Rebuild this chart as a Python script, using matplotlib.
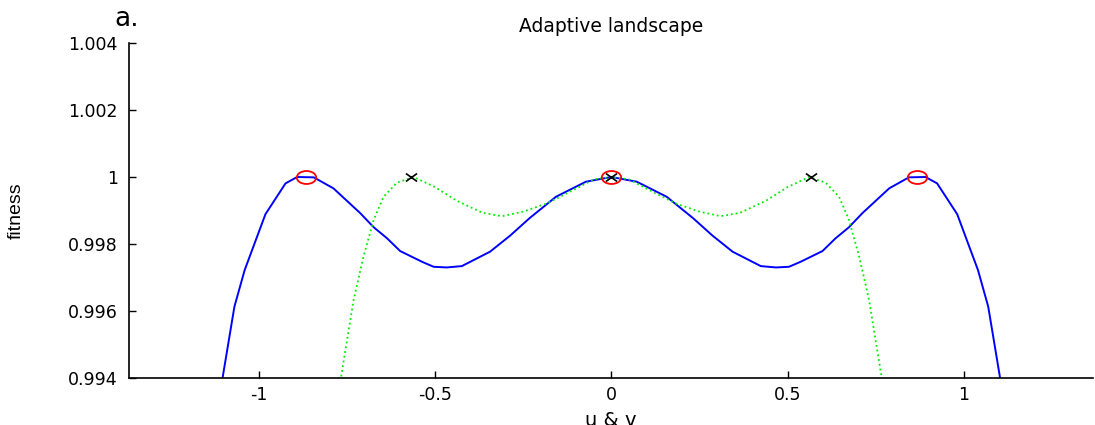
import numpy as np
import matplotlib
matplotlib.use("Agg")
import matplotlib.pyplot as plt
from matplotlib.path import Path
from matplotlib.transforms import Affine2D

plt.rcParams['font.family'] = ['DejaVu Sans']

# blue curve (solid)
blue_x = [-1.12, -1.069, -1.04, -0.981, -0.924, -0.891, -0.844, -0.788, -0.712, -0.674,
          -0.636, -0.599, -0.537, -0.504, -0.467, -0.424, -0.344, -0.287, -0.232, -0.157,
          -0.072, 0.0, 0.072, 0.157, 0.232, 0.287, 0.344, 0.424, 0.467, 0.504,
          0.537, 0.599, 0.636, 0.674, 0.712, 0.788, 0.844, 0.891, 0.924, 0.981,
          1.04, 1.069, 1.12]
blue_y = [0.9929, 0.99613, 0.99722, 0.99889, 0.99981, 1.0, 0.99999, 0.99966, 0.99892, 0.9985,
          0.99817, 0.99779, 0.99747, 0.99732, 0.9973, 0.99734, 0.99777, 0.99825, 0.99877, 0.99941,
          0.99986, 1.0, 0.99986, 0.99941, 0.99877, 0.99825, 0.99777, 0.99734, 0.9973, 0.99732,
          0.99747, 0.99779, 0.99817, 0.9985, 0.99892, 0.99966, 0.99999, 1.0, 0.99981, 0.99889,
          0.99722, 0.99613, 0.9929]

# green curve (dotted)
green_x = [-0.78, -0.767, -0.731, -0.703, -0.674, -0.646, -0.608, -0.561, -0.5, -0.44,
           -0.365, -0.31, -0.249, -0.183, -0.108, -0.05, 0.0, 0.05, 0.108, 0.183,
           0.249, 0.31, 0.365, 0.44, 0.5, 0.561, 0.608, 0.646, 0.674, 0.703,
           0.731, 0.767, 0.78]
green_y = [0.9932, 0.994, 0.99633, 0.99762, 0.99872, 0.99941, 0.99983, 1.0, 0.9997, 0.9993,
           0.99893, 0.99883, 0.99897, 0.99921, 0.99961, 0.99993, 1.0, 0.99993, 0.99961, 0.99921,
           0.99897, 0.99883, 0.99893, 0.9993, 0.9997, 1.0, 0.99983, 0.99941, 0.99872, 0.99762,
           0.99633, 0.994, 0.9932]

# optima
circ_x = [-0.866, 0.0, 0.866]
circ_y = [1.0, 1.0, 1.0]
cross_x = [-0.567, 0.0, 0.567]
cross_y = [1.0, 1.0, 1.0]

xticks = [-1, -0.5, 0, 0.5, 1]
xticklabels = ['-1', '-0.5', '0', '0.5', '1']
yticks = [0.994, 0.996, 0.998, 1.0, 1.002, 1.004]
yticklabels = ['0.994', '0.996', '0.998', '1', '1.002', '1.004']

# stretched circle / cross, as in the exported figure
ellipse = Affine2D().scale(1.5, 1.0).transform_path(Path.unit_circle())
wide_x = Path([(-1.4, -1), (1.4, 1), (-1.4, 1), (1.4, -1)],
              [Path.MOVETO, Path.LINETO, Path.MOVETO, Path.LINETO])

fig = plt.figure(figsize=(10.95, 4.25), dpi=100)
ax = fig.add_axes([0.1178, 0.1106, 0.880, 0.7882])

ax.plot(blue_x, blue_y, color='#0000ff', lw=1.4)
ax.plot(green_x, green_y, color='#00ee00', lw=1.3, ls=':')
ax.plot(circ_x, circ_y, ls='none', marker=ellipse, mfc='none', mec='#ff0000', mew=1.3, ms=14)
ax.plot(cross_x, cross_y, ls='none', marker=wide_x, color='black', ms=8, mew=1.2)

ax.set_xlim(-1.368, 1.365)
ax.set_ylim(0.994, 1.004)
ax.set_xticks(xticks)
ax.set_xticklabels(xticklabels)
ax.set_yticks(yticks)
ax.set_yticklabels(yticklabels)
ax.tick_params(direction='in', length=5, width=1, labelsize=12.5)
ax.tick_params(axis='x', pad=6)
ax.tick_params(axis='y', pad=8)

for s in ['top', 'right']:
    ax.spines[s].set_visible(False)
for s in ['left', 'bottom']:
    ax.spines[s].set_linewidth(1.2)

ax.set_title('Adaptive landscape', fontsize=13.5, pad=8)
ax.set_xlabel('u & v', fontsize=14, va='top')
ax.xaxis.set_label_coords(0.5, -0.1)
ax.set_ylabel('fitness', fontsize=14, family=['Liberation Sans Narrow', 'Liberation Sans'])
ax.yaxis.set_label_coords(-0.108, 0.5)

fig.text(0.104, 0.94, 'a.', fontsize=19)

fig.savefig('out.png', dpi=100)
